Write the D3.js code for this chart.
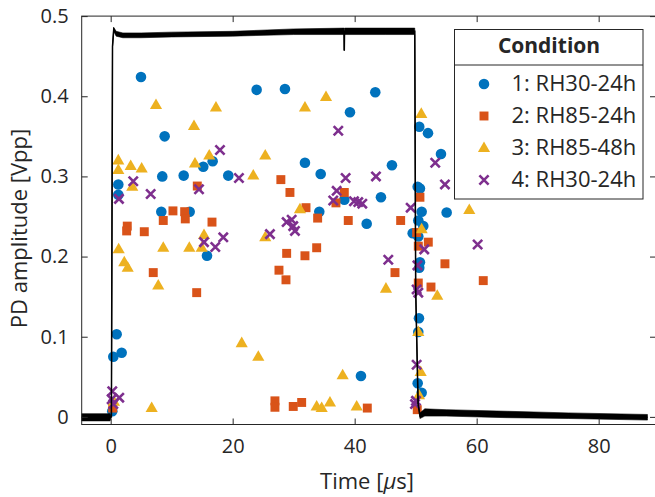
<!DOCTYPE html>
<html><head><meta charset="utf-8">
<script src="https://cdn.jsdelivr.net/npm/d3@7"></script>
<style>
body{margin:0;background:#fff}
svg{display:block}
text{font-family:"Open Sans",sans-serif;fill:#262626}
</style>
</head><body>
<svg id="c" width="655" height="497"></svg>
<script>
// ---------- data ----------
const xTicks = [0, 20, 40, 60, 80];
const yTicks = [0, 0.1, 0.2, 0.3, 0.4, 0.5];
const yTickLabels = ["0", "0.1", "0.2", "0.3", "0.4", "0.5"];
const seriesNames = ["1: RH30-24h", "2: RH85-24h", "3: RH85-48h", "4: RH30-24h"];
const legendTitle = "Condition";
const xLabel = "Time [";
const yLabel = "PD amplitude [Vpp]";

// black photodiode trace: time, lower and upper edge of the noise band
const traceT  = [-4.75, -0.1, 0.12, 0.3, 0.5, 0.9, 2, 5, 10, 20, 30, 38.26, 38.3, 38.34, 45, 49.85, 50.0, 50.4, 50.7, 51.5, 55, 65, 75, 88];
const traceLo = [-0.005, -0.005, 0, 0.462, 0.481, 0.475, 0.473, 0.473, 0.474, 0.475, 0.477, 0.477, 0.457, 0.477, 0.477, 0.477, 0.16, 0.016, -0.002, 0.001, 0.001, -0.001, -0.002, -0.004];
const traceHi = [0.004, 0.004, 0, 0.462, 0.486, 0.481, 0.479, 0.479, 0.480, 0.481, 0.484, 0.485, 0.457, 0.485, 0.485, 0.485, 0.16, 0.016, 0.005, 0.010, 0.009, 0.007, 0.005, 0.003];

const s1T = [4.97,8.85,16.72,15.18,8.46,11.97,19.28,1.25,1.25,8.30,12.95,15.79,0.98,1.80,0.43,0.26,23.93,28.57,43.38,39.23,50.59,52.02,54.15,31.85,34.43,46.11,50.33,50.70,38.30,44.31,50.98,55.08,34.20,41.97,50.43,51.25,49.51,50.43,50.70,50.59,50.54,50.43,41.03,50.33,50.98];
const s1V = [0.424,0.350,0.319,0.312,0.300,0.301,0.301,0.290,0.277,0.256,0.256,0.201,0.103,0.080,0.075,0.007,0.408,0.409,0.405,0.380,0.362,0.354,0.328,0.317,0.303,0.314,0.287,0.285,0.271,0.274,0.256,0.255,0.256,0.241,0.245,0.238,0.229,0.225,0.193,0.186,0.123,0.106,0.051,0.042,0.030];

const s2T = [27.9,14.20,10.21,12.13,12.23,8.62,16.61,2.72,2.62,5.51,6.98,14.10,27.59,29.39,38.30,50.70,36.93,32.02,33.93,38.95,47.54,50.16,52.07,50.43,28.85,31.85,33.77,28.74,46.61,54.80,50.43,52.51,61.08,26.93,26.93,29.93,31.31,42.07,50.26,0.33];
const s2V = [0.296,0.288,0.257,0.256,0.247,0.245,0.243,0.238,0.232,0.231,0.180,0.155,0.183,0.280,0.280,0.274,0.267,0.261,0.248,0.245,0.245,0.230,0.218,0.213,0.204,0.201,0.211,0.171,0.180,0.191,0.167,0.162,0.170,0.020,0.012,0.013,0.018,0.011,0.009,0.011];

const s3T = [7.43,17.26,13.66,16.16,25.34,13.82,1.25,3.28,5.08,1.25,23.38,3.54,15.30,25.34,1.31,8.62,12.89,14.92,2.23,2.79,7.80,6.72,21.48,24.20,35.30,31.85,50.92,31.03,50.98,58.79,45.13,53.54,50.43,50.82,38.03,50.54,33.77,34.59,35.95,40.33,0.54];
const s3V = [0.389,0.386,0.363,0.326,0.326,0.316,0.320,0.313,0.310,0.308,0.301,0.287,0.227,0.224,0.209,0.211,0.211,0.211,0.193,0.186,0.164,0.011,0.092,0.075,0.399,0.386,0.378,0.259,0.234,0.258,0.160,0.151,0.106,0.056,0.052,0.027,0.013,0.011,0.018,0.013,0.019];

const s4T = [17.92,21.03,3.70,14.48,6.56,1.36,18.46,15.30,17.15,26.11,0.26,1.41,0.16,0.43,37.31,53.21,38.52,43.49,54.80,37.05,36.49,39.89,40.59,41.25,49.18,28.85,29.67,29.93,30.21,51.41,60.16,45.51,50.29,50.43,50.16,50.16,50.05,49.89];
const s4V = [0.333,0.298,0.294,0.284,0.278,0.272,0.224,0.218,0.212,0.228,0.032,0.024,0.022,0.016,0.357,0.317,0.298,0.300,0.290,0.282,0.270,0.269,0.268,0.266,0.261,0.243,0.246,0.238,0.232,0.209,0.215,0.196,0.189,0.155,0.159,0.065,0.020,0.016];

const colors = ["#0072BD", "#D95319", "#EDB120", "#7E2F8E"];
const shapes = ["circle", "square", "triangle", "x"];

// ---------- layout ----------
const L = 81.7, R = 656, T = 16.1, B = 424.5;
const svg = d3.select("#c");
const x = d3.scaleLinear().domain([-4.75, 89.4]).range([L, R]);
const y = d3.scaleLinear().domain([-0.0095, 0.5]).range([B, T]);

const axisColor = "#262626";

function drawMarker(g, shape, color, cx, cy) {
  if (shape === "x") {
    const h = 4.6;
    g.append("path")
      .attr("d", `M${cx-h},${cy-h}L${cx+h},${cy+h}M${cx-h},${cy+h}L${cx+h},${cy-h}`)
      .attr("stroke", color).attr("stroke-width", 2.6).attr("fill", "none");
  } else {
    const type = shape === "circle" ? d3.symbolCircle : shape === "square" ? d3.symbolSquare : d3.symbolTriangle;
    const size = shape === "circle" ? 88 : shape === "square" ? 80 : 64;
    g.append("path")
      .attr("d", d3.symbol().type(type).size(size)())
      .attr("transform", `translate(${cx},${cy + (shape === "triangle" ? 0.5 : 0)})`)
      .attr("fill", color);
  }
}

const series = [[s1T, s1V], [s2T, s2V], [s3T, s3V], [s4T, s4V]];
const gPts = svg.append("g");
series.forEach(([ts, vs], i) => {
  ts.forEach((t, k) => drawMarker(gPts, shapes[i], colors[i], x(t), y(vs[k])));
});

// trace
const traceData = traceT.map((t, i) => ({t, lo: traceLo[i], hi: traceHi[i]}));
svg.append("path")
  .attr("d", d3.area().x(d => x(d.t)).y0(d => y(d.lo)).y1(d => y(d.hi))(traceData))
  .attr("fill", "#000").attr("stroke", "#000").attr("stroke-width", 0.6);
svg.append("path")
  .attr("d", d3.line().x(d => x(d.t)).y(d => y((d.lo + d.hi) / 2))(traceData))
  .attr("fill", "none").attr("stroke", "#000").attr("stroke-width", 1.5);

// axes box
const gAx = svg.append("g");
gAx.append("rect").attr("x", L).attr("y", T).attr("width", R - L).attr("height", B - T)
  .attr("fill", "none").attr("stroke", axisColor).attr("stroke-width", 1);

const xAxisB = d3.axisBottom(x).tickValues(xTicks).tickSizeInner(-6).tickSizeOuter(0).tickPadding(14).tickFormat(d3.format("d"));
const xAxisT = d3.axisTop(x).tickValues(xTicks).tickSizeInner(-6).tickSizeOuter(0).tickFormat("");
const yAxisL = d3.axisLeft(y).tickValues(yTicks).tickSizeInner(-6).tickSizeOuter(0).tickPadding(13).tickFormat((d, i) => yTickLabels[i]);
const yAxisR = d3.axisRight(y).tickValues(yTicks).tickSizeInner(-6).tickSizeOuter(0).tickFormat("");

function styleAxis(g) {
  g.select(".domain").remove();
  g.selectAll("line").attr("stroke", axisColor).attr("stroke-width", 1);
  g.selectAll("text").attr("font-family", '"Open Sans", sans-serif').attr("font-size", 20).attr("fill", axisColor);
}
gAx.append("g").attr("transform", `translate(0,${B})`).call(xAxisB).call(styleAxis);
gAx.append("g").attr("transform", `translate(0,${T})`).call(xAxisT).call(styleAxis);
gAx.append("g").attr("transform", `translate(${L},0)`).call(yAxisL).call(styleAxis);
gAx.append("g").attr("transform", `translate(${R},0)`).call(yAxisR).call(styleAxis);

// axis labels
const xl = svg.append("text").attr("x", 367).attr("y", 489).attr("text-anchor", "middle").attr("font-size", 22);
xl.append("tspan").text(xLabel);
xl.append("tspan").attr("font-style", "italic").text("\u03bc");
xl.append("tspan").text("s]");

svg.append("text").attr("transform", "translate(26.5,228.5) rotate(-90)")
  .attr("text-anchor", "middle").attr("font-size", 22).text(yLabel);

// legend
const lg = svg.append("g");
lg.append("rect").attr("x", 454.5).attr("y", 29.5).attr("width", 188.5).attr("height", 169.5)
  .attr("fill", "#fff").attr("stroke", axisColor).attr("stroke-width", 1);
lg.append("line").attr("x1", 454.5).attr("x2", 643).attr("y1", 65).attr("y2", 65)
  .attr("stroke", axisColor).attr("stroke-width", 1);
lg.append("text").attr("x", 549).attr("y", 53).attr("text-anchor", "middle")
  .attr("font-size", 21).attr("font-weight", "bold").attr("fill", "#000").text(legendTitle);
seriesNames.forEach((name, i) => {
  const by = 91 + i * 32;
  drawMarker(lg, shapes[i], colors[i], 484, by - 7);
  lg.append("text").attr("x", 511.5).attr("y", by).attr("font-size", 22).attr("fill", "#000").text(name);
});
</script>
</body></html>
